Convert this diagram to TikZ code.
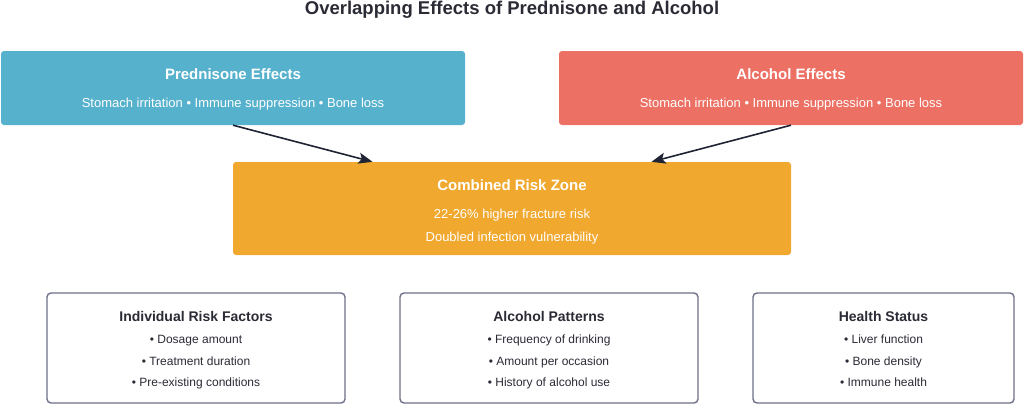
\documentclass[tikz,border=0pt]{standalone}
\usepackage{fontspec}
\setmainfont{Liberation Sans}
\usetikzlibrary{arrows.meta}
\definecolor{predblue}{HTML}{56B1CD}
\definecolor{alcred}{HTML}{EC7063}
\definecolor{riskorange}{HTML}{F0A82E}
\definecolor{darkink}{HTML}{1F2333}
\definecolor{framegray}{HTML}{6E7087}
\definecolor{txtgray}{HTML}{2B2B36}

\tikzset{
  colbox/.style={rounded corners=3pt, inner sep=0pt, draw=none},
  factorbox/.style={rounded corners=4pt, inner sep=0pt, draw=framegray, line width=1.4pt, fill=white, minimum height=110pt},
  headtxt/.style={anchor=base, text=white, font=\fontsize{15}{18}\selectfont\bfseries},
  bodytxt/.style={anchor=base, text=white, font=\fontsize{13}{16}\selectfont},
  fhead/.style={anchor=base, text=txtgray, font=\fontsize{14}{17}\selectfont\bfseries},
  fitem/.style={anchor=base, text=txtgray, font=\fontsize{12}{14}\selectfont},
  link/.style={-{Stealth[length=14pt,width=11pt,inset=3pt]}, draw=darkink, line width=1.6pt}
}

\begin{document}
\begin{tikzpicture}[x=1pt,y=-1pt]
	\useasboundingbox (0,0) rectangle (1024,405);
	\node[anchor=base, text=txtgray, font=\fontsize{18.5}{22}\selectfont\bfseries] (title) at (512,14.5) {Overlapping Effects of Prednisone and Alcohol};
	% top row
	\node[colbox, fill=predblue, minimum width=464pt, minimum height=74pt] (pred) at (233,88) {};
	\node[headtxt] (predhead) at (233,79) {Prednisone Effects};
	\node[bodytxt] (predtext) at (233,107) {Stomach irritation • Immune suppression • Bone loss};
	\node[colbox, fill=alcred, minimum width=464pt, minimum height=74pt] (alc) at (791,88) {};
	\node[headtxt] (alchead) at (791,79) {Alcohol Effects};
	\node[bodytxt] (alctext) at (791,107) {Stomach irritation • Immune suppression • Bone loss};
	% combined
	\node[colbox, fill=riskorange, minimum width=558pt, minimum height=93pt] (risk) at (512,208.5) {};
	\node[headtxt] (riskhead) at (512,190) {Combined Risk Zone};
	\node[bodytxt] (riskone) at (512,218) {22-26\% higher fracture risk};
	\node[bodytxt] (risktwo) at (512,241) {Doubled infection vulnerability};
	\draw[link] (pred.south) -- ([xshift=-139.5pt]risk.north);
	\draw[link] (alc.south) -- ([xshift=139.5pt]risk.north);
	% factors
	\node[factorbox, minimum width=298pt] (indiv) at (196,348) {};
	\node[fhead] (indivhead) at (196,321) {Individual Risk Factors};
	\node[fitem] (indivone) at (196,343.5) {• Dosage amount};
	\node[fitem] (indivtwo) at (196,365) {• Treatment duration};
	\node[fitem] (indivthree) at (196,386.5) {• Pre-existing conditions};
	\node[factorbox, minimum width=298pt] (pattern) at (549,348) {};
	\node[fhead] (patternhead) at (549,321) {Alcohol Patterns};
	\node[fitem] (patternone) at (549,343.5) {• Frequency of drinking};
	\node[fitem] (patterntwo) at (549,365) {• Amount per occasion};
	\node[fitem] (patternthree) at (549,386.5) {• History of alcohol use};
	\node[factorbox, minimum width=261pt] (health) at (883.5,348) {};
	\node[fhead] (healthhead) at (883.5,321) {Health Status};
	\node[fitem] (healthone) at (883.5,343.5) {• Liver function};
	\node[fitem] (healthtwo) at (883.5,365) {• Bone density};
	\node[fitem] (healththree) at (883.5,386.5) {• Immune health};
\end{tikzpicture}
\end{document}
